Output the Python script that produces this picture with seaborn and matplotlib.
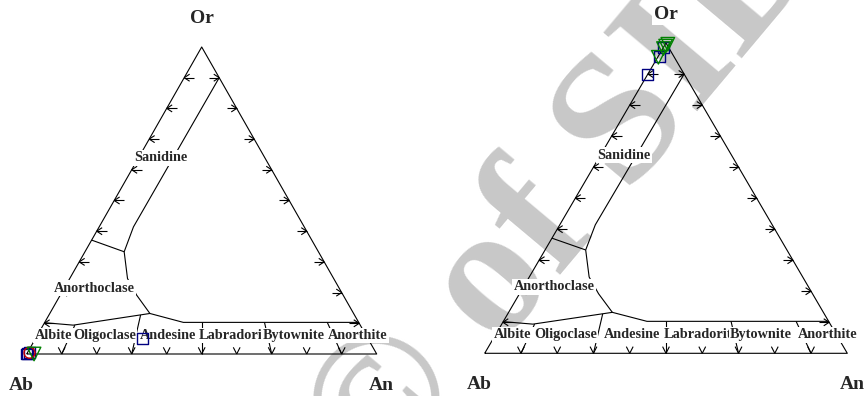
import numpy as np
import pandas as pd
import matplotlib
matplotlib.use("Agg")
import matplotlib.pyplot as plt
import seaborn as sns

sns.set_style("white")
plt.rcParams["font.family"] = ["Liberation Serif", "DejaVu Serif"]

R3 = np.sqrt(3) / 2

# ---------------------------------------------------------------- data
# Field boundaries of the feldspar ternary, given as (Or %, An %)
plag_top_or = [10.2, 9.4, 13.2, 10.3, 10.3]
plag_top_an = [0.0, 8.6, 28.6, 39.6, 89.7]

alkali_split_or = [90.0, 41.4, 33.3, 24.6, 19.2, 13.2]
alkali_split_an = [10.0, 9.8, 11.2, 16.5, 21.8, 28.6]

sanidine_anorth_or = [37.1, 33.3]
sanidine_anorth_an = [0.0, 11.2]

# plagioclase names split by An/(An+Ab); each divider runs from the base up to Or %
plag_ratio = [10, 30, 50, 70, 90]
plag_ratio_top_or = [9.4, 12.7, 10.3, 10.3, 10.3]

field_names = ["Sanidine", "Anorthoclase", "Albite", "Oligoclase", "Andesine",
               "Labradorite", "Bytownite", "Anorthite"]
field_x = [0.384, 0.192, 0.076, 0.222, 0.405, 0.598, 0.762, 0.945]
field_y = [0.553, 0.186, 0.052, 0.052, 0.052, 0.052, 0.052, 0.052]

# Analyses, (Or %, An %) per series
left_sq_or = [0.0, 0.3, 0.5, 5.2]
left_sq_an = [0.0, 0.2, 0.5, 30.6]
left_ci_or = [0.4]
left_ci_an = [0.6]
left_tr_or = [0.0]
left_tr_an = [2.1]

right_sq_or = [89.9, 98.6, 95.6]
right_sq_an = [0.0, 0.0, 0.5]
right_tr_or = [99.6, 99.0, 98.2, 95.4]
right_tr_an = [0.7, 0.4, 0.2, 0.2]

ticks = [10, 20, 30, 40, 50, 60, 70, 80, 90]


def tern(or_, an):
    o = np.asarray(or_, float) / 100.0
    a = np.asarray(an, float) / 100.0
    return a + o / 2.0, o * R3


def panel(ax, xlim, ylim, sx, sy, sq, ci, tr):
    ax.set_xlim(*xlim)
    ax.set_ylim(*ylim)
    ax.set_axis_off()
    ax.patch.set_alpha(0)
    kw = dict(color="black", lw=0.8, solid_capstyle="butt")

    # outer triangle
    ax.plot([0, 1, 0.5, 0], [0, 0, R3, 0], **kw)

    # arrow-like ticks, tip on the edge pointing outward
    def arrow(x, y, ux, uy, shaft, arm, ang):
        ang = np.deg2rad(ang)
        if shaft > 0:
            ax.plot([x, x - ux * shaft / sx], [y, y - uy * shaft / sy], **kw)
        for s in (1, -1):
            c, sn = np.cos(s * ang), np.sin(s * ang)
            bx, by = -(ux * c - uy * sn), -(ux * sn + uy * c)
            ax.plot([x, x + bx * arm / sx], [y, y + by * arm / sy], **kw)

    for t in ticks:
        f = t / 100.0
        arrow(f / 2, f * R3, -1, 0, 10, 6.5, 33)       # Ab–Or edge
        arrow(1 - f / 2, f * R3, 1, 0, 10, 6.5, 33)    # An–Or edge
        arrow(f, 0, 0, -1, 0, 7.5, 27)                 # Ab–An edge

    # field boundaries
    for o_list, a_list in [(plag_top_or, plag_top_an),
                           (alkali_split_or, alkali_split_an),
                           (sanidine_anorth_or, sanidine_anorth_an)]:
        bx, by = tern(o_list, a_list)
        sns.lineplot(x=bx, y=by, sort=False, estimator=None, ax=ax, **kw)
    for r, top in zip(plag_ratio, plag_ratio_top_or):
        an_top = r / 100.0 * (100 - top)
        bx, by = tern([0, top], [r, an_top])
        sns.lineplot(x=bx, y=by, sort=False, estimator=None, ax=ax, **kw)

    # field names
    for name, x, y in zip(field_names, field_x, field_y):
        ax.text(x, y, name, ha="center", va="center", fontsize=10.3,
                fontweight="bold", zorder=5,
                bbox=dict(boxstyle="square,pad=0.1", fc="white", ec="none"))

    # apex labels
    ax.text(0.5, R3 + 28.5 / sy, "Or", ha="center", va="center", fontsize=14,
            fontweight="bold", zorder=5,
            bbox=dict(boxstyle="square,pad=0.1", fc="white", ec="none"))
    ax.text(-5 / sx, -31 / sy, "Ab", ha="center", va="center", fontsize=14,
            fontweight="bold", zorder=5)
    ax.text(1 + 5 / sx, -31 / sy, "An", ha="center", va="center", fontsize=14,
            fontweight="bold", zorder=5)

    # analyses
    styles = [("s", "#000080", 62), ("o", "#cc0000", 62), ("v", "#008000", 95)]
    for (o_list, a_list), (m, c, s) in zip([sq, ci, tr], styles):
        if not o_list:
            continue
        px_, py_ = tern(o_list, a_list)
        sns.scatterplot(x=px_, y=py_, marker=m, s=s, facecolor="none",
                        edgecolor=c, linewidth=1.0, ax=ax, zorder=6, legend=False)


fig = plt.figure(figsize=(8.68, 3.96), dpi=100)

# watermark behind both diagrams
fig.text(0.655, 0.505, "\u00a9 of SID", rotation=50, rotation_mode="anchor",
         ha="center", va="center", fontsize=134, color="#c8c8c8",
         fontweight="bold", zorder=-1)

ax1 = fig.add_axes([0.0, 0.0, 0.5, 1.0])
sx1, sy1 = 350.0, 354.5
panel(ax1, (-26.7 / sx1, (434 - 26.7) / sx1), ((354 - 396) / sy1, 354 / sy1),
      sx1, sy1, (left_sq_or, left_sq_an), (left_ci_or, left_ci_an),
      (left_tr_or, left_tr_an))

ax2 = fig.add_axes([0.5, 0.0, 0.5, 1.0])
sx2, sy2 = 362.6, 358.3
panel(ax2, ((434 - 484.7) / sx2, (868 - 484.7) / sx2),
      ((353.3 - 396) / sy2, 353.3 / sy2),
      sx2, sy2, (right_sq_or, right_sq_an), ([], []),
      (right_tr_or, right_tr_an))

fig.savefig("out.png", dpi=100)
